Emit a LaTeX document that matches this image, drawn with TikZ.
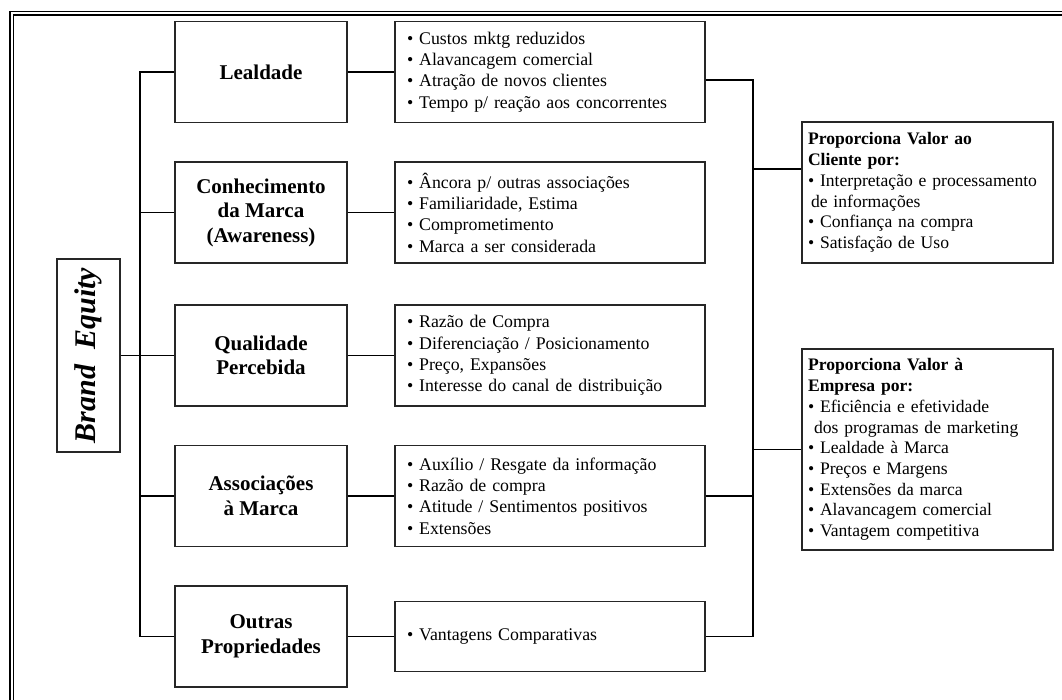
\documentclass[tikz,border=0pt]{standalone}
\usepackage{fontspec}
\setmainfont{Liberation Serif}
\usetikzlibrary{positioning}
\begin{document}
\begin{tikzpicture}[x=1pt,y=-1pt,
    catbox/.style={draw=black!85,line width=1.1pt,minimum width=172pt,minimum height=101pt,
      inner sep=0pt,align=center,font=\fontsize{21}{24.5}\selectfont\bfseries},
    listbox/.style={draw=black!85,line width=1.1pt,text width=286pt,inner xsep=12pt,inner ysep=0pt,
      minimum height=101pt,align=left,font=\fontsize{17.8}{21.3}\selectfont},
    valbox/.style={draw=black!85,line width=1.1pt,text width=239pt,inner xsep=6pt,inner ysep=0pt,
      align=left,font=\fontsize{17.6}{20.7}\selectfont},
    link/.style={line width=1.1pt}]
  \useasboundingbox (0,0) rectangle (1062,700);
  \clip (0,0) rectangle (1062,700);
  \draw[double,double distance=2pt,line width=1.1pt] (11.5,13.5) rectangle (1080,720);
  \node[draw=black!85,line width=1.1pt,rotate=90,minimum width=193pt,minimum height=63pt,inner sep=0pt,
    font=\fontsize{30}{36}\selectfont\bfseries\itshape] (be) at (88.5,355.5) {Brand\ \ Equity};
  \node[catbox] (lea) at (261,72) {Lealdade};
  \node[catbox] (con) at (261,212.5) {Conhecimento\\da Marca\\(Awareness)};
  \node[catbox] (qua) at (261,355.5) {Qualidade\\Percebida};
  \node[catbox] (ass) at (261,496) {Associações\\à Marca};
  \node[catbox] (out) at (261,636.5) {Outras\\Propriedades};
  \node[listbox] (d1) at (550,72) {• Custos mktg reduzidos\\• Alavancagem comercial\\• Atração de novos clientes\\• Tempo p/ reação aos concorrentes};
  \node[listbox] (d2) at (550,212.5) {• Âncora p/ outras associações\\• Familiaridade, Estima\\• Comprometimento\\• Marca a ser considerada};
  \node[listbox] (d3) at (550,355.5) {• Razão de Compra\\• Diferenciação / Posicionamento\\• Preço, Expansões\\• Interesse do canal de distribuição};
  \node[listbox] (d4) at (550,496) {• Auxílio / Resgate da informação\\• Razão de compra\\• Atitude / Sentimentos positivos\\• Extensões};
  \node[listbox,minimum height=70pt] (d5) at (550,636.5) {• Vantagens Comparativas};
  \node[valbox,minimum height=141pt] (v1) at (927.5,192.5) {\textbf{Proporciona Valor ao}\\\textbf{Cliente por:}\\• Interpretação e processamento\\\hspace*{3pt}de informações\\• Confiança na compra\\• Satisfação de Uso};
  \node[valbox,minimum height=201pt] (v2) at (927.5,449.5) {\textbf{Proporciona Valor à}\\\textbf{Empresa por:}\\• Eficiência e efetividade\\\hspace*{6pt}dos programas de marketing\\• Lealdade à Marca\\• Preços e Margens\\• Extensões da marca\\• Alavancagem comercial\\• Vantagem competitiva};
  \coordinate (spine) at (140,0);
  \coordinate (bus) at (753,0);
  \draw[link] (lea.west) -- (lea.west -| spine) -- (out.west -| spine) -- (out.west);
  \foreach \n in {con,qua,ass} \draw[link] (\n.west) -- (\n.west -| spine);
  \draw[link] (be.south) -- (qua.west);
  \foreach \n/\d in {lea/d1,con/d2,qua/d3,ass/d4,out/d5} \draw[link] (\n.east) -- (\d.west);
  \draw[link] ([yshift=-8pt]d1.east) -- ([yshift=-8pt]d1.east -| bus) -- (d5.east -| bus) -- (d5.east);
  \draw[link] (d4.east) -- (d4.east -| bus);
  \draw[link] ([yshift=23.5pt]v1.west -| bus) -- ([yshift=23.5pt]v1.west);
  \draw[link] (v2.west -| bus) -- (v2.west);
\end{tikzpicture}
\end{document}
